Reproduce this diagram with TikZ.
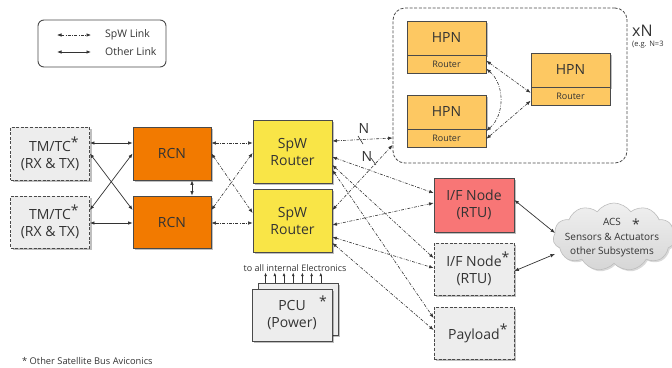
\documentclass[tikz,border=0pt]{standalone}
\usepackage{fontspec}
\setmainfont{Open Sans}
\usetikzlibrary{arrows.meta,shadows,shapes.symbols}
\definecolor{txt}{HTML}{333333}
\definecolor{edge}{HTML}{4A4A4A}
\definecolor{gbox}{HTML}{EDEDED}
\definecolor{orng}{HTML}{F27A00}
\definecolor{yell}{HTML}{F9E547}
\definecolor{hpnc}{HTML}{FDC862}
\definecolor{redb}{HTML}{F87676}
\definecolor{cloudc}{HTML}{D6D6D6}
\definecolor{cloudl}{HTML}{BDBDBD}
\begin{document}
\begin{tikzpicture}[x=1pt,y=-1pt,
  box/.style={draw=edge, line width=0.8pt, minimum width=79pt, inner sep=0pt, align=center, text=txt,
    font=\fontsize{14}{17}\selectfont,
    drop shadow={shadow xshift=2pt, shadow yshift=-2pt, opacity=0.25, fill=black}},
  graybox/.style={box, fill=gbox, dash pattern=on 3pt off 1.6pt},
  hpntop/.style={box, fill=hpnc, minimum height=34pt, font=\fontsize{14}{16}\selectfont},
  hpnbot/.style={draw=edge, line width=0.8pt, fill=hpnc, minimum width=79pt, minimum height=18pt, inner sep=0pt,
    text=txt, font=\fontsize{9}{10}\selectfont},
  spwlink/.style={draw=txt, line width=0.6pt, {Latex[length=4.5pt,width=3.5pt]}-{Latex[length=4.5pt,width=3.5pt]},
    dash pattern=on 3pt off 1.4pt on 0.8pt off 1.4pt},
  othlink/.style={draw=txt, line width=0.7pt, {Latex[length=4.5pt,width=3.5pt]}-{Latex[length=4.5pt,width=3.5pt]}},
  lbl/.style={text=txt, inner sep=0pt},
  star/.style={text=txt, inner sep=0pt, font=\fontsize{14}{14}\selectfont}
]
\useasboundingbox (0,0) rectangle (672,367);

% legend
\node[draw=edge, line width=0.9pt, rounded corners=6pt, minimum width=128pt, minimum height=47pt] (legend) at (102,43.5) {};
\coordinate (la1) at (57,35); \coordinate (la2) at (91,35);
\coordinate (lb1) at (57,52); \coordinate (lb2) at (91,52);
\draw[spwlink] (la1) -- (la2);
\draw[othlink] (lb1) -- (lb2);
\node[lbl, anchor=west, font=\fontsize{10.5}{12}\selectfont] (lspw) at (105,35) {SpW Link};
\node[lbl, anchor=west, font=\fontsize{10.5}{12}\selectfont] (loth) at (105,52) {Other Link};

% HPN group
\node[draw=edge, line width=0.8pt, dash pattern=on 3pt off 1.6pt, rounded corners=12pt, minimum width=234pt, minimum height=155pt] (hpnbox) at (510,85.5) {};
\node[lbl, anchor=west, font=\fontsize{16}{16}\selectfont] (xn) at (632,31) {xN};
\node[lbl, anchor=west, font=\fontsize{7.5}{8}\selectfont] (eg) at (632,45) {(e.g. N=3};

\node[hpntop] (h1) at (446.5,38) {HPN};
\node[hpnbot, anchor=north] (r1) at (h1.south) {Router};
\node[hpntop] (h2) at (446.5,112) {HPN};
\node[hpnbot, anchor=north] (r2) at (h2.south) {Router};
\node[hpntop] (h3) at (570.5,70) {HPN};
\node[hpnbot, anchor=north] (r3) at (h3.south) {Router};

\draw[spwlink] ([yshift=4pt]r1.east) -- ([yshift=4pt]r3.west);
\draw[spwlink] ([yshift=-4pt]r3.west) -- ([yshift=0pt]r2.east);
\draw[spwlink] ([yshift=-4pt]r1.east) to[out=-40,in=40] ([yshift=8pt]r2.east);

% left column
\node[graybox, minimum height=53pt] (tm1) at (50,153.5) {TM/TC\rlap{\raisebox{0.3em}{*}}\\(RX \& TX)};
\node[graybox, minimum height=52pt] (tm2) at (50,222) {TM/TC\rlap{\raisebox{0.3em}{*}}\\(RX \& TX)};
\node[box, fill=orng, minimum width=78pt, minimum height=53pt] (rcn1) at (172,153.5) {RCN};
\node[box, fill=orng, minimum width=78pt, minimum height=52pt] (rcn2) at (172,222) {RCN};
\node[box, fill=yell, minimum height=63pt] (spw1) at (292.5,151.5) {SpW\\Router};
\node[box, fill=yell, minimum height=63pt] (spw2) at (292.5,220.5) {SpW\\Router};

% right column
\node[box, fill=redb, minimum width=80pt, minimum height=54pt] (ifr) at (474,205) {I/F Node\\(RTU)};
\node[graybox, minimum width=80pt, minimum height=52pt] (if2) at (474,269) {I/F Node\rlap{\raisebox{0.3em}{*}}\\(RTU)};
\node[graybox, minimum width=80pt, minimum height=52pt] (pay) at (474,333) {Payload\rlap{\raisebox{0.35em}{*}}};

% cloud
\node[cloud, cloud puffs=11, cloud puff arc=110, aspect=1.8, draw=cloudl, line width=0.6pt,
  top color=gray!12, bottom color=cloudc, minimum width=122pt, minimum height=68pt,
  drop shadow={shadow xshift=1.5pt, shadow yshift=-1.5pt, opacity=0.15, fill=black}] (acs) at (614,237) {};
\node[lbl, align=center, font=\fontsize{10}{14.5}\selectfont] (acstext) at (612,238) {ACS\\Sensors \& Actuators\\other Subsystems};
\node[star] (acsstar) at (636,224) {*};

% PCU
\node[box, fill=gbox, minimum width=80pt, minimum height=52pt] (pcub) at (298,309) {};
\node[box, fill=gbox, minimum width=80pt, minimum height=52pt] (pcu) at (292,315) {PCU\\(Power)};
\node[star] (pcustar) at (323,301) {*};
\foreach \i in {0,...,6}{
  \coordinate (pa\i) at ([xshift={8pt+\i*9.2pt}]pcub.north west);
  \draw[draw=txt, line width=0.6pt, -{Latex[length=3.5pt,width=2.8pt]}] (pa\i) -- ++(0,-10);
}
\node[lbl, font=\fontsize{9}{10}\selectfont] (elec) at (295,268.5) {to all internal Electronics};

% footnote
\node[lbl, anchor=west, font=\fontsize{9.3}{10}\selectfont] (foot) at (22,361) {* Other Satellite Bus Aviconics};

% other links left
\draw[othlink] ([yshift=10.5pt]tm1.east) -- ([yshift=10.5pt]rcn1.west);
\draw[othlink] ([yshift=0pt]tm1.east) -- ([yshift=12pt]rcn2.west);
\draw[othlink] ([yshift=12pt]tm2.east) -- ([yshift=0pt]rcn1.west);
\draw[othlink] ([yshift=-1pt]tm2.east) -- ([yshift=-1pt]rcn2.west);
\draw[othlink] ([xshift=20pt]rcn1.south) -- ([xshift=20pt]rcn2.north);

% RCN - SpW
\draw[spwlink] ([yshift=10.5pt]rcn1.east) -- ([yshift=8.5pt]spw1.west);
\draw[spwlink] ([yshift=0pt]rcn1.east) -- ([yshift=7.5pt]spw2.west);
\draw[spwlink] ([yshift=12pt]rcn2.east) -- ([yshift=-1.5pt]spw1.west);
\draw[spwlink] ([yshift=-1pt]rcn2.east) -- ([yshift=-2.5pt]spw2.west);

% SpW - right
\draw[spwlink] ([yshift=10.5pt]spw1.east) -- ([yshift=-52.5pt]hpnbox.west);
\draw[spwlink] ([yshift=-5.5pt]spw1.east) -- ([yshift=12pt]ifr.west);
\draw[spwlink] ([yshift=-13.5pt]spw1.east) -- ([yshift=11pt]if2.west);
\draw[spwlink] ([yshift=-18.5pt]spw1.east) -- ([yshift=15pt]pay.west);
\draw[spwlink] ([yshift=10.5pt]spw2.east) -- ([yshift=-59.5pt]hpnbox.west);
\draw[spwlink] ([yshift=-4.5pt]spw2.east) -- ([yshift=2pt]ifr.west);
\draw[spwlink] ([yshift=-16.5pt]spw2.east) -- ([yshift=1pt]if2.west);
\draw[spwlink] ([yshift=-22.5pt]spw2.east) -- ([yshift=3pt]pay.west);

% N labels with bus ticks
\node[lbl, font=\fontsize{14}{14}\selectfont] (n1) at (364,129) {N};
\node[lbl, font=\fontsize{14}{14}\selectfont] (n2) at (367,156) {N};
\coordinate (t1a) at (358,136); \coordinate (t1b) at (363,144);
\coordinate (t2a) at (371,158); \coordinate (t2b) at (376,165);
\draw[draw=txt, line width=0.6pt] (t1a) -- (t1b);
\draw[draw=txt, line width=0.6pt] (t2a) -- (t2b);

% cloud links
\coordinate (c1) at (555,233);
\coordinate (c2) at (555,254);
\draw[othlink] ([yshift=5pt]ifr.east) -- (c1);
\draw[othlink] ([yshift=-2pt]if2.east) -- (c2);
\end{tikzpicture}
\end{document}
